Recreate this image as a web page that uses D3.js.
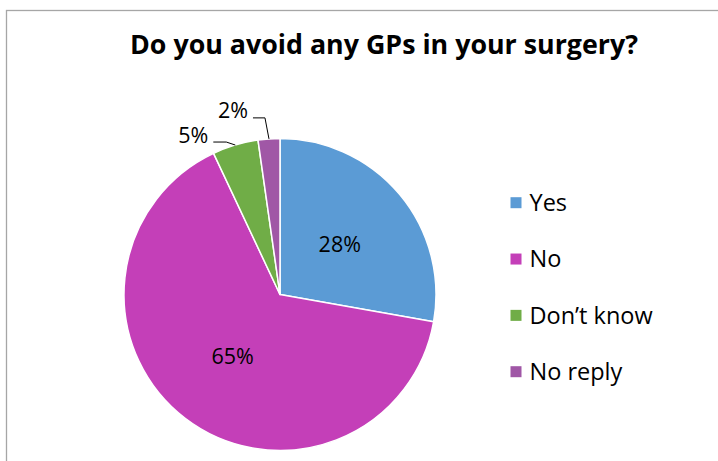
<!DOCTYPE html>
<html><head><meta charset="utf-8">
<script src="https://cdn.jsdelivr.net/npm/d3@7"></script>
<style>body{margin:0;background:#fff;} svg{display:block;}</style>
</head><body>
<svg id="c" width="718" height="461"></svg>
<script>
const title = "Do you avoid any GPs in your surgery?";
const categories = ["Yes", "No", "Don\u2019t know", "No reply"];
const values = [27.8, 65.2, 4.75, 2.25];
const labels = ["28%", "65%", "5%", "2%"];
const colors = ["#5B9BD5", "#C43FB8", "#70AD47", "#A057A6"];

const svg = d3.select("#c");
const font = "'Open Sans', 'Liberation Sans', sans-serif";

// frame
svg.append("rect").attr("x", 6.5).attr("y", 10.5).attr("width", 800).attr("height", 500)
  .attr("fill", "#fff").attr("stroke", "#A6A6A6").attr("stroke-width", 1.3);

// title
const t = svg.append("text").attr("x", 384).attr("y", 53.5).attr("text-anchor", "middle")
  .attr("font-family", font).attr("font-weight", "bold").attr("font-size", 26)
  .attr("fill", "#000").text(title);
const tw = t.node().getComputedTextLength();
if (Math.abs(tw - 508) > 4) t.attr("textLength", 508).attr("lengthAdjust", "spacingAndGlyphs");

const cx = 280, cy = 294.5, r = 156;
const data = categories.map((c, i) => ({cat: c, value: values[i], label: labels[i], color: colors[i]}));
const pie = d3.pie().value(d => d.value).sort(null);
const arcs = pie(data);
const arc = d3.arc().innerRadius(0).outerRadius(r);
const g = svg.append("g").attr("transform", `translate(${cx},${cy})`);
g.selectAll("path").data(arcs).join("path")
  .attr("d", arc).attr("fill", d => d.data.color)
  .attr("stroke", "#fff").attr("stroke-width", 1.5).attr("stroke-linejoin", "round");

// inside labels
const inside = arcs.filter(a => a.data.value > 10);
g.selectAll("text.in").data(inside).join("text").attr("class", "in")
  .attr("x", d => arc.centroid(d)[0]).attr("y", d => arc.centroid(d)[1] + 7.8)
  .attr("text-anchor", "middle").attr("font-family", font).attr("font-size", 21.5)
  .attr("fill", "#000").text(d => d.data.label);

// outside labels with leader lines
const outside = arcs.filter(a => a.data.value <= 10);
const elbowOff = {"Don\u2019t know": [-9, -3], "No reply": [-4, -21]};
const tailLen = {"Don\u2019t know": 13, "No reply": 12};
outside.forEach(a => {
  const m = (a.startAngle + a.endAngle) / 2;
  const p = [r * Math.sin(m), -r * Math.cos(m)];
  const eo = elbowOff[a.data.cat];
  const e = [p[0] + eo[0], p[1] + eo[1]];
  const end = [e[0] - tailLen[a.data.cat], e[1]];
  g.append("path").attr("d", d3.line()([p, e, end]))
    .attr("fill", "none").attr("stroke", "#000").attr("stroke-width", 1);
  g.append("text").attr("x", end[0] - 5).attr("y", end[1] + 0.5)
    .attr("text-anchor", "end").attr("font-family", font).attr("font-size", 21.5)
    .attr("fill", "#000").text(a.data.label);
});

// legend
const ly = d3.scalePoint().domain(categories).range([202.7, 371.7]);
const lg = svg.append("g");
lg.selectAll("rect").data(data).join("rect")
  .attr("x", 510.5).attr("y", d => ly(d.cat) - 5.5).attr("width", 11).attr("height", 11)
  .attr("fill", d => d.color);
lg.selectAll("text").data(data).join("text")
  .attr("x", 529.5).attr("y", d => ly(d.cat) + 8.3)
  .attr("font-family", font).attr("font-size", 23.5).attr("fill", "#000")
  .text(d => d.cat);
</script>
</body></html>
